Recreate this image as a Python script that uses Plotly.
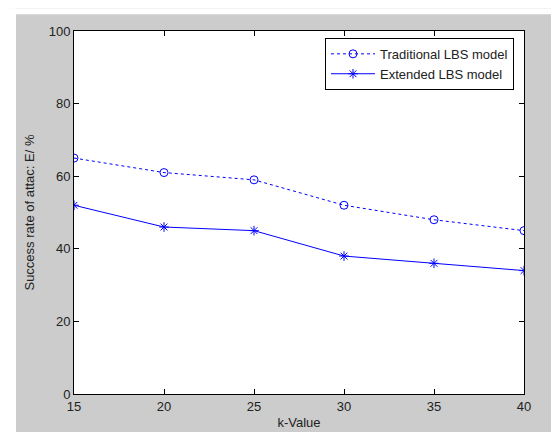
import plotly.graph_objects as go

k_values = [15, 20, 25, 30, 35, 40]
traditional = [65, 61, 59, 52, 48, 45]
extended = [52, 46, 45, 38, 36, 34]
x_ticks = [15, 20, 25, 30, 35, 40]
y_ticks = [0, 20, 40, 60, 80, 100]

W, H = 559, 432
L, R, T, B = 66, 43, 23, 40
pw, ph = W - L - R, H - T - B
FONT = "Liberation Sans, Arial, Helvetica"

fig = go.Figure()
fig.add_trace(go.Scatter(
    x=k_values, y=traditional, mode="lines+markers", name="Traditional LBS model",
    line=dict(color="#0000ff", width=1, dash="3px,3px"),
    marker=dict(symbol="circle-open", size=8, color="#0000ff", line=dict(width=1)),
))
fig.add_trace(go.Scatter(
    x=k_values, y=extended, mode="lines+markers", name="Extended LBS model",
    line=dict(color="#0000ff", width=1),
    marker=dict(symbol="asterisk-open", size=8, color="#0000ff", line=dict(width=1, color="#0000ff")),
))

axis_common = dict(
    showgrid=False, zeroline=False, showline=True, linecolor="black", linewidth=1,
    mirror="ticks", ticks="inside", ticklen=5, tickcolor="black",
    tickfont=dict(family=FONT, size=13, color="#222"),
)

fig.update_layout(
    width=W, height=H,
    margin=dict(l=L, r=R, t=T, b=B),
    paper_bgcolor="#cccccc",
    plot_bgcolor="white",
    font=dict(family=FONT, size=13, color="#222"),
    xaxis=dict(range=[15, 40], tickvals=x_ticks, **axis_common,
               title=dict(text="k-Value", standoff=5, font=dict(size=13))),
    yaxis=dict(range=[0, 100], tickvals=y_ticks, **axis_common,
               title=dict(text="Success rate of attac: E/ %", standoff=11, font=dict(size=13))),
    legend=dict(
        x=(506 - L) / pw, y=(392 - 30) / ph, xanchor="right", yanchor="top",
        bgcolor="white", bordercolor="black", borderwidth=1,
        font=dict(family=FONT, size=13, color="#222"), itemwidth=44,
        tracegroupgap=0,
    ),
    showlegend=True,
    shapes=[
        dict(type="rect", xref="paper", yref="paper",
             x0=-L / pw, x1=(8 - L) / pw, y0=-B / ph, y1=1 + T / ph,
             fillcolor="white", line=dict(width=0), layer="above"),
        dict(type="rect", xref="paper", yref="paper",
             x0=-L / pw, x1=1 + R / pw, y0=1 + (T - 6) / ph, y1=1 + T / ph,
             fillcolor="white", line=dict(width=0), layer="above"),
    ],
)

fig.write_html("out.html")
